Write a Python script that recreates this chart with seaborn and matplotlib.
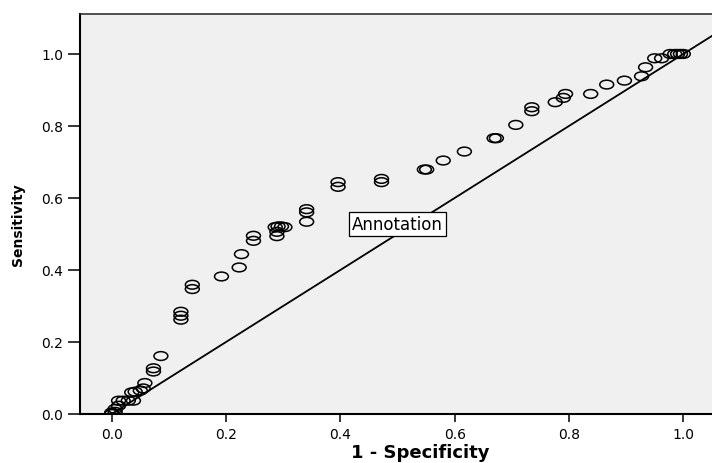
import matplotlib
matplotlib.use("Agg")
import matplotlib.pyplot as plt
from matplotlib.path import Path
from matplotlib.transforms import Affine2D
import seaborn as sns
import pandas as pd

# ---- data ----
fpr = [0.000, 0.000, 0.006, 0.006, 0.012, 0.012, 0.020, 0.029, 0.038, 0.035,
       0.041, 0.050, 0.055, 0.058, 0.073, 0.073, 0.086, 0.121, 0.121, 0.121,
       0.141, 0.141, 0.192, 0.223, 0.227, 0.248, 0.248, 0.289, 0.289, 0.286,
       0.291, 0.297, 0.303, 0.341, 0.341, 0.341, 0.396, 0.396, 0.472, 0.472,
       0.547, 0.551, 0.580, 0.617, 0.669, 0.673, 0.707, 0.735, 0.735, 0.776,
       0.790, 0.794, 0.838, 0.866, 0.897, 0.927, 0.934, 0.950, 0.962, 0.977,
       0.985, 0.990, 0.995, 1.000]
tpr = [0.000, 0.004, 0.006, 0.014, 0.023, 0.037, 0.037, 0.037, 0.037, 0.060,
       0.062, 0.065, 0.071, 0.086, 0.118, 0.127, 0.161, 0.262, 0.273, 0.284,
       0.347, 0.359, 0.382, 0.407, 0.444, 0.481, 0.495, 0.494, 0.506, 0.519,
       0.521, 0.521, 0.519, 0.534, 0.560, 0.569, 0.631, 0.644, 0.644, 0.653,
       0.679, 0.679, 0.704, 0.729, 0.766, 0.766, 0.803, 0.841, 0.852, 0.866,
       0.878, 0.889, 0.889, 0.915, 0.926, 0.938, 0.963, 0.988, 0.988, 1.000,
       1.000, 1.000, 1.000, 1.000]
ticks = [0.0, 0.2, 0.4, 0.6, 0.8, 1.0]
tick_labels = ["0.0", "0.2", "0.4", "0.6", "0.8", "1.0"]
annotation_text = "Annotation"
annotation_pos = (0.500, 0.528)
x_label = "1 - Specificity"
y_label = "Sensitivity"

df = pd.DataFrame({"fpr": fpr, "tpr": tpr})

sns.set_style("white", {"axes.facecolor": "#f0f0f0", "axes.edgecolor": "black",
                        "text.color": "black", "axes.labelcolor": "black",
                        "xtick.color": "black", "ytick.color": "black"})
plt.rcParams["font.family"] = ["DejaVu Sans"]

fig = plt.figure(figsize=(7.12, 4.64), dpi=100)
ax = fig.add_axes([80 / 712, 49 / 464, 636 / 712, 400 / 464])

# open ellipse marker (wider than tall)
ellipse = Path.unit_circle().transformed(Affine2D().scale(1.0, 0.63))

ax.axline((0, 0), slope=1, color="black", lw=1.3, zorder=2)
sns.scatterplot(data=df, x="fpr", y="tpr", ax=ax, marker=ellipse, s=100,
                facecolor="none", edgecolor="black", linewidth=1.1, zorder=3)

ax.set_xlim(-0.0555, 1.0572)
ax.set_ylim(0.0, 1.111)
ax.set_xticks(ticks)
ax.set_xticklabels(tick_labels)
ax.set_yticks(ticks)
ax.set_yticklabels(tick_labels)

ax.tick_params(axis="x", direction="out", length=5.8, width=1.1, pad=3.5,
               labelsize=10, bottom=True, colors="black")
ax.tick_params(axis="y", direction="out", length=8.6, width=1.1, pad=3.5,
               labelsize=10, left=True, colors="black")

for side in ["left", "bottom"]:
    ax.spines[side].set_linewidth(1.5)
    ax.spines[side].set_color("black")
ax.spines["top"].set_linewidth(1.1)
ax.spines["top"].set_color("#222222")
ax.spines["right"].set_visible(False)

ax.set_xlabel(x_label, fontsize=13, fontweight="bold", color="black")
ax.set_ylabel(y_label, fontsize=10, fontweight="bold", color="black")
ax.xaxis.set_label_coords((420 - 80) / 636, (415 - 453) / 400)
ax.xaxis.label.set_va("center")
ax.yaxis.set_label_coords((18 - 80) / 636, (415 - 225) / 400)
ax.yaxis.label.set_va("center")

ax.text(annotation_pos[0], annotation_pos[1], annotation_text, fontsize=12,
        ha="center", va="center", zorder=5, color="black",
        bbox=dict(boxstyle="square,pad=0.2", fc="white", ec="black", lw=0.9))

fig.savefig("out.png", dpi=100)
